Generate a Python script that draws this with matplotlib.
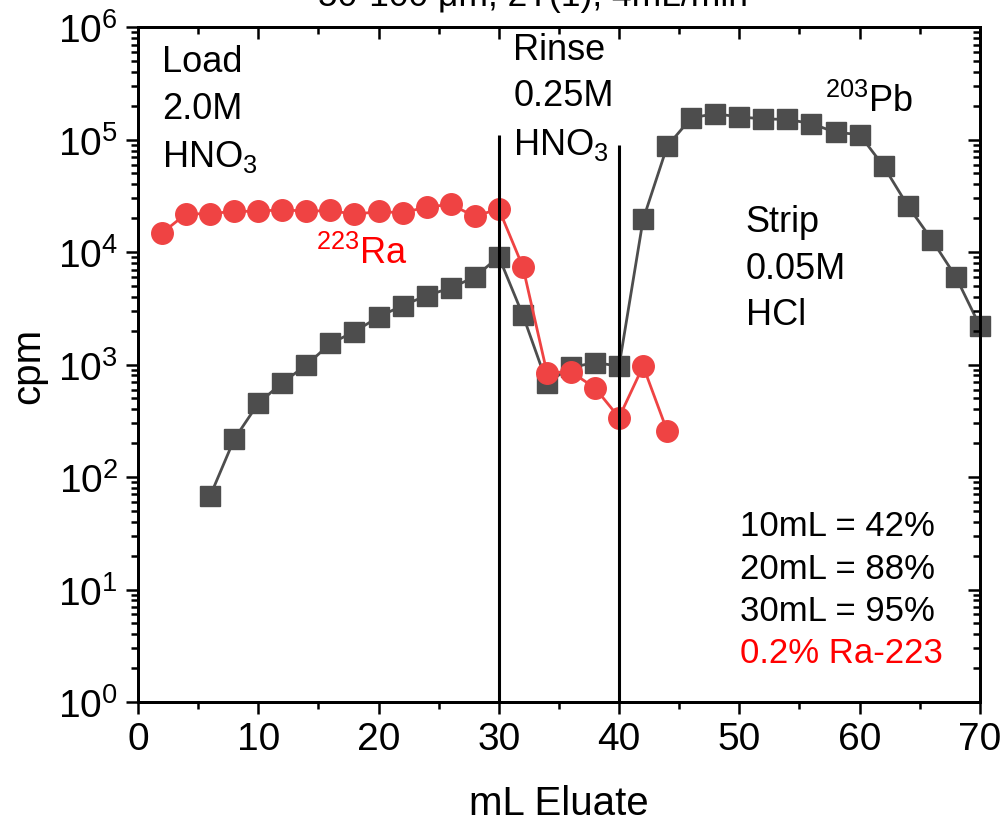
import matplotlib
matplotlib.use("Agg")
import matplotlib.pyplot as plt
from matplotlib.ticker import LogLocator, MultipleLocator, NullFormatter

plt.rcParams['font.family'] = ['Liberation Sans', 'DejaVu Sans']
plt.rcParams['mathtext.fontset'] = 'custom'
plt.rcParams['mathtext.rm'] = 'Liberation Sans'
plt.rcParams['mathtext.it'] = 'Liberation Sans:italic'
plt.rcParams['mathtext.bf'] = 'Liberation Sans:bold'

# Ra-223 activity in each 2 mL fraction
ra_ml = [2, 4, 6, 8, 10, 12, 14, 16, 18, 20, 22, 24, 26, 28, 30,
         32, 34, 36, 38, 40, 42, 44]
ra_cpm = [14800, 21900, 21900, 23100, 23000, 23900, 23000, 23500, 21600,
          23000, 22300, 25200, 26500, 20800, 24200,
          7400, 850, 860, 620, 338, 970, 257]

# Pb-203 activity in each 2 mL fraction
pb_ml = [6, 8, 10, 12, 14, 16, 18, 20, 22, 24, 26, 28, 30,
         32, 34, 36, 38, 40, 42, 44, 46, 48, 50, 52, 54, 56, 58, 60,
         62, 64, 66, 68, 70]
pb_cpm = [68, 217, 452, 690, 990, 1540, 1960, 2650, 3350, 4100, 4800, 6000, 9100,
          2750, 690, 944, 1040, 970, 19500, 87300, 156000, 170000, 159000,
          153000, 151000, 139000, 116000, 111000,
          57900, 25900, 12900, 6040, 2200]

# Phase boundaries (load -> rinse -> strip) and their marker heights
phase_ml = [30, 40]
phase_top = [1.1e5, 9.0e4]

x_major = [0, 10, 20, 30, 40, 50, 60, 70]

fig = plt.figure(figsize=(10.06, 8.28), dpi=100)
ax = fig.add_axes([0.1372, 0.151, 0.8368, 0.815])

ax.set_yscale('log')
ax.set_xlim(0, 70)
ax.set_ylim(1, 1e6)

grey = '#4D4D4D'
red = '#EF4343'

ax.plot(pb_ml, pb_cpm, color=grey, lw=2.0, marker='s', ms=14,
        mec=grey, mfc=grey, clip_on=False, zorder=3)
ax.plot(ra_ml, ra_cpm, color=red, lw=2.0, marker='o', ms=15.5,
        mec=red, mfc=red, clip_on=False, zorder=4)

for xm, top in zip(phase_ml, phase_top):
    ax.plot([xm, xm], [1, top], color='black', lw=2.2, zorder=5,
            solid_capstyle='butt')

fs_tick = 28
maj_len, min_len, tick_w = 8.5, 5, 1.8

ax.set_xticks(x_major)
ax.xaxis.set_minor_locator(MultipleLocator(5))
ax.yaxis.set_major_locator(LogLocator(base=10, numticks=10))
ax.yaxis.set_minor_locator(LogLocator(base=10, subs=range(2, 10), numticks=20))
ax.yaxis.set_minor_formatter(NullFormatter())

# Bottom and left: outward ticks with labels
ax.tick_params(axis='both', which='both', direction='out', top=False,
               right=False, labelsize=fs_tick, width=tick_w)
ax.tick_params(axis='both', which='major', length=maj_len)
ax.tick_params(axis='both', which='minor', length=min_len)
ax.tick_params(axis='x', which='major', pad=5)
ax.tick_params(axis='y', which='major', pad=6)

# Top and right: inward ticks, no labels
ax_top = ax.twiny()
ax_top.set_xlim(ax.get_xlim())
ax_top.set_xticks(x_major)
ax_top.xaxis.set_minor_locator(MultipleLocator(5))
ax_top.tick_params(axis='x', which='both', direction='in', labeltop=False,
                   width=tick_w)
ax_top.tick_params(axis='x', which='major', length=maj_len)
ax_top.tick_params(axis='x', which='minor', length=min_len)

ax_right = ax.twinx()
ax_right.set_yscale('log')
ax_right.set_ylim(ax.get_ylim())
ax_right.yaxis.set_major_locator(LogLocator(base=10, numticks=10))
ax_right.yaxis.set_minor_locator(LogLocator(base=10, subs=range(2, 10), numticks=20))
ax_right.tick_params(axis='y', which='both', direction='in', labelright=False,
                     width=tick_w)
ax_right.tick_params(axis='y', which='major', length=maj_len)
ax_right.tick_params(axis='y', which='minor', length=min_len)

for a in (ax, ax_top, ax_right):
    for sp in a.spines.values():
        sp.set_linewidth(1.9)

ax.set_xlabel('mL Eluate', fontsize=29, labelpad=20)
ax.set_ylabel('cpm', fontsize=29, labelpad=8)

fs_ann = 26
ls_ann = 1.43
ax.text(0.029, 0.975, 'Load\n2.0M\nHNO$_3$', transform=ax.transAxes,
        fontsize=fs_ann, va='top', ha='left', linespacing=ls_ann)
ax.text(0.446, 0.993, 'Rinse\n0.25M\nHNO$_3$', transform=ax.transAxes,
        fontsize=fs_ann, va='top', ha='left', linespacing=ls_ann)
ax.text(0.722, 0.738, 'Strip\n0.05M\nHCl', transform=ax.transAxes,
        fontsize=fs_ann, va='top', ha='left', linespacing=ls_ann)
ax.text(18.6, 9900, '$^{223}$Ra', fontsize=26, color='#FF0000',
        ha='center', va='center')
ax.text(60.8, 2.22e5, '$^{203}$Pb', fontsize=26, color='black',
        ha='center', va='center')

fs_sum = 25
ax.text(0.715, 0.261, '10mL = 42%', transform=ax.transAxes,
        fontsize=fs_sum, ha='left', va='center')
ax.text(0.715, 0.1985, '20mL = 88%', transform=ax.transAxes,
        fontsize=fs_sum, ha='left', va='center')
ax.text(0.715, 0.135, '30mL = 95%', transform=ax.transAxes,
        fontsize=fs_sum, ha='left', va='center')
ax.text(0.715, 0.0726, '0.2% Ra-223', transform=ax.transAxes,
        fontsize=fs_sum, ha='left', va='center', color='#FF0000')

fig.text(0.530, 1 - 13 / 828, '50-100 \u03bcm, 2T(1), 4mL/min',
         fontsize=25.5, ha='center', va='bottom')

fig.savefig('out.png', dpi=100)
